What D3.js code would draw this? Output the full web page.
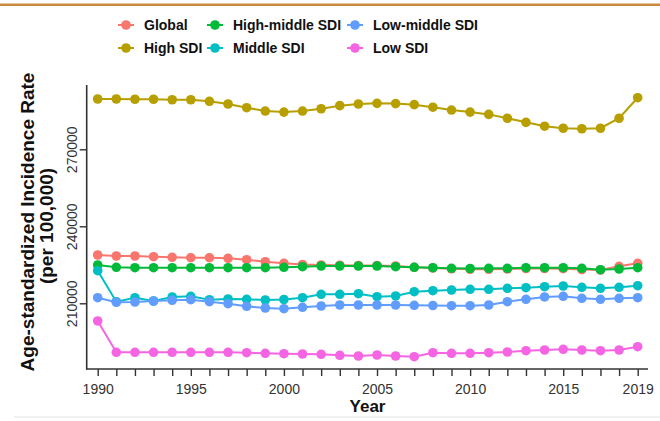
<!DOCTYPE html>
<html><head><meta charset="utf-8">
<script src="https://cdn.jsdelivr.net/npm/d3@7"></script>
<style>
html,body{margin:0;padding:0;background:#fff;}
svg{display:block;font-family:"Liberation Sans",Arial,sans-serif;}
</style></head>
<body><svg id="c" width="660" height="421"></svg>
<script>
const years = d3.range(1990, 2020);
const seriesNames = ["Global","High SDI","High-middle SDI","Middle SDI","Low-middle SDI","Low SDI"];
const seriesColors = ["#F8766D","#B79F00","#00BA38","#00BFC4","#619CFF","#F564E3"];
const globalVals = [228820,228430,228430,228160,227920,227770,227770,227530,226990,226210,225590,225120,224920,224840,224730,224730,224530,224030,223750,223440,223250,223250,223360,223560,223560,223480,223170,222970,224420,225590];
const highVals = [289600,289600,289500,289500,289300,289300,288700,287650,286200,284900,284500,284900,285800,287000,287650,287900,287800,287400,286400,285300,284500,283600,282100,280500,279000,278200,278000,278200,282100,290100];
const highMiddleVals = [224920,224030,223870,223870,223870,223870,223870,223870,223870,223870,224030,224260,224530,224530,224530,224530,224260,224030,223870,223640,223560,223640,223640,223870,223870,223870,223640,223090,223360,223870];
const middleVals = [222700,210630,212180,210900,212460,212730,211400,211680,211560,211290,211480,212180,213510,213510,213740,212570,212850,214520,214910,215180,215460,215460,215850,216080,216470,216740,216230,215850,216230,216860];
const lowMiddleVals = [212180,210390,210510,210900,211170,211400,210630,209850,208830,208170,207900,208440,208950,209340,209340,209340,209340,209220,209140,209070,209070,209340,210630,211560,212460,212730,211950,211560,211950,212180];
const lowVals = [203110,190910,190910,190910,190910,190910,190910,190910,190760,190520,190370,190250,190130,189740,189470,189860,189470,189200,190760,190520,190520,190760,191030,191530,191810,192080,191810,191530,191810,193090];
const xTickLabels = [1990,1995,2000,2005,2010,2015,2019];
const yTickLabels = [210000,240000,270000];

const allVals = [globalVals,highVals,highMiddleVals,middleVals,lowMiddleVals,lowVals];
const series = seriesNames.map((n,i)=>({name:n,color:seriesColors[i],values:allVals[i].map((v,j)=>({year:years[j],v}))}));

const svg = d3.select("#c");
svg.append("rect").attr("x",0).attr("y",3.5).attr("width",660).attr("height",2.5).attr("fill","#C98A3E");
svg.append("line").attr("x1",14).attr("x2",660).attr("y1",417).attr("y2",417).attr("stroke","#ececec").attr("stroke-width",1.5);

const x = d3.scaleLinear().domain([1990,2019]).range([97.7,637.7]);
const y = d3.scaleLinear().domain([184400,295050]).range([369,85]);

const axisColor = "#333";
svg.append("line").attr("x1",86.7).attr("x2",86.7).attr("y1",85).attr("y2",369.5).attr("stroke",axisColor).attr("stroke-width",1.6);
svg.append("line").attr("x1",86).attr("x2",648).attr("y1",369).attr("y2",369).attr("stroke",axisColor).attr("stroke-width",1.6);

const xAxis = d3.axisBottom(x).tickValues(years).tickSize(7).tickPadding(6)
  .tickFormat(d => xTickLabels.includes(d) ? String(d) : "");
const gx = svg.append("g").attr("transform","translate(0,369)").call(xAxis);
gx.select(".domain").remove();
gx.selectAll(".tick line").attr("stroke",axisColor).attr("stroke-width",1.4);
gx.selectAll(".tick text").attr("font-size",14).attr("fill","#333").attr("dy","0.85em");

const yAxis = d3.axisLeft(y).tickValues(yTickLabels).tickSize(7).tickPadding(4).tickFormat(d=>String(d));
const gy = svg.append("g").attr("transform","translate(86.7,0)").call(yAxis);
gy.select(".domain").remove();
gy.selectAll(".tick line").attr("stroke",axisColor).attr("stroke-width",1.4);
gy.selectAll(".tick text").attr("font-size",14).attr("fill","#333")
  .attr("transform","rotate(-90)").attr("x",0).attr("y",-10).attr("dy",0).attr("text-anchor","middle");

svg.append("text").attr("transform","translate(34,222) rotate(-90)").attr("text-anchor","middle")
  .attr("font-size",19).attr("font-weight","bold").attr("fill","#111").text("Age-standardized Incidence Rate");
svg.append("text").attr("transform","translate(53,226) rotate(-90)").attr("text-anchor","middle")
  .attr("font-size",19).attr("font-weight","bold").attr("fill","#111").text("(per 100,000)");
svg.append("text").attr("x",367.5).attr("y",412).attr("text-anchor","middle")
  .attr("font-size",17).attr("font-weight","bold").attr("fill","#111").text("Year");

const line = d3.line().x(d=>x(d.year)).y(d=>y(d.v));
series.forEach(s=>{
  const g = svg.append("g");
  g.append("path").datum(s.values).attr("d",line).attr("fill","none").attr("stroke",s.color).attr("stroke-width",2);
  g.selectAll("circle").data(s.values).join("circle")
    .attr("cx",d=>x(d.year)).attr("cy",d=>y(d.v)).attr("r",4.8).attr("fill",s.color);
});

const legX = [126,215,355];
const legY = [25,48];
series.forEach((s,i)=>{
  const cx = legX[Math.floor(i/2)], cy = legY[i%2];
  const g = svg.append("g");
  g.append("line").attr("x1",cx-8).attr("x2",cx+8).attr("y1",cy).attr("y2",cy).attr("stroke",s.color).attr("stroke-width",2);
  g.append("circle").attr("cx",cx).attr("cy",cy).attr("r",4.8).attr("fill",s.color);
  g.append("text").attr("x",cx+18).attr("y",cy).attr("dy","0.36em").attr("font-size",14).attr("font-weight","bold")
    .attr("fill","#111").text(s.name);
});
</script>
</body></html>
